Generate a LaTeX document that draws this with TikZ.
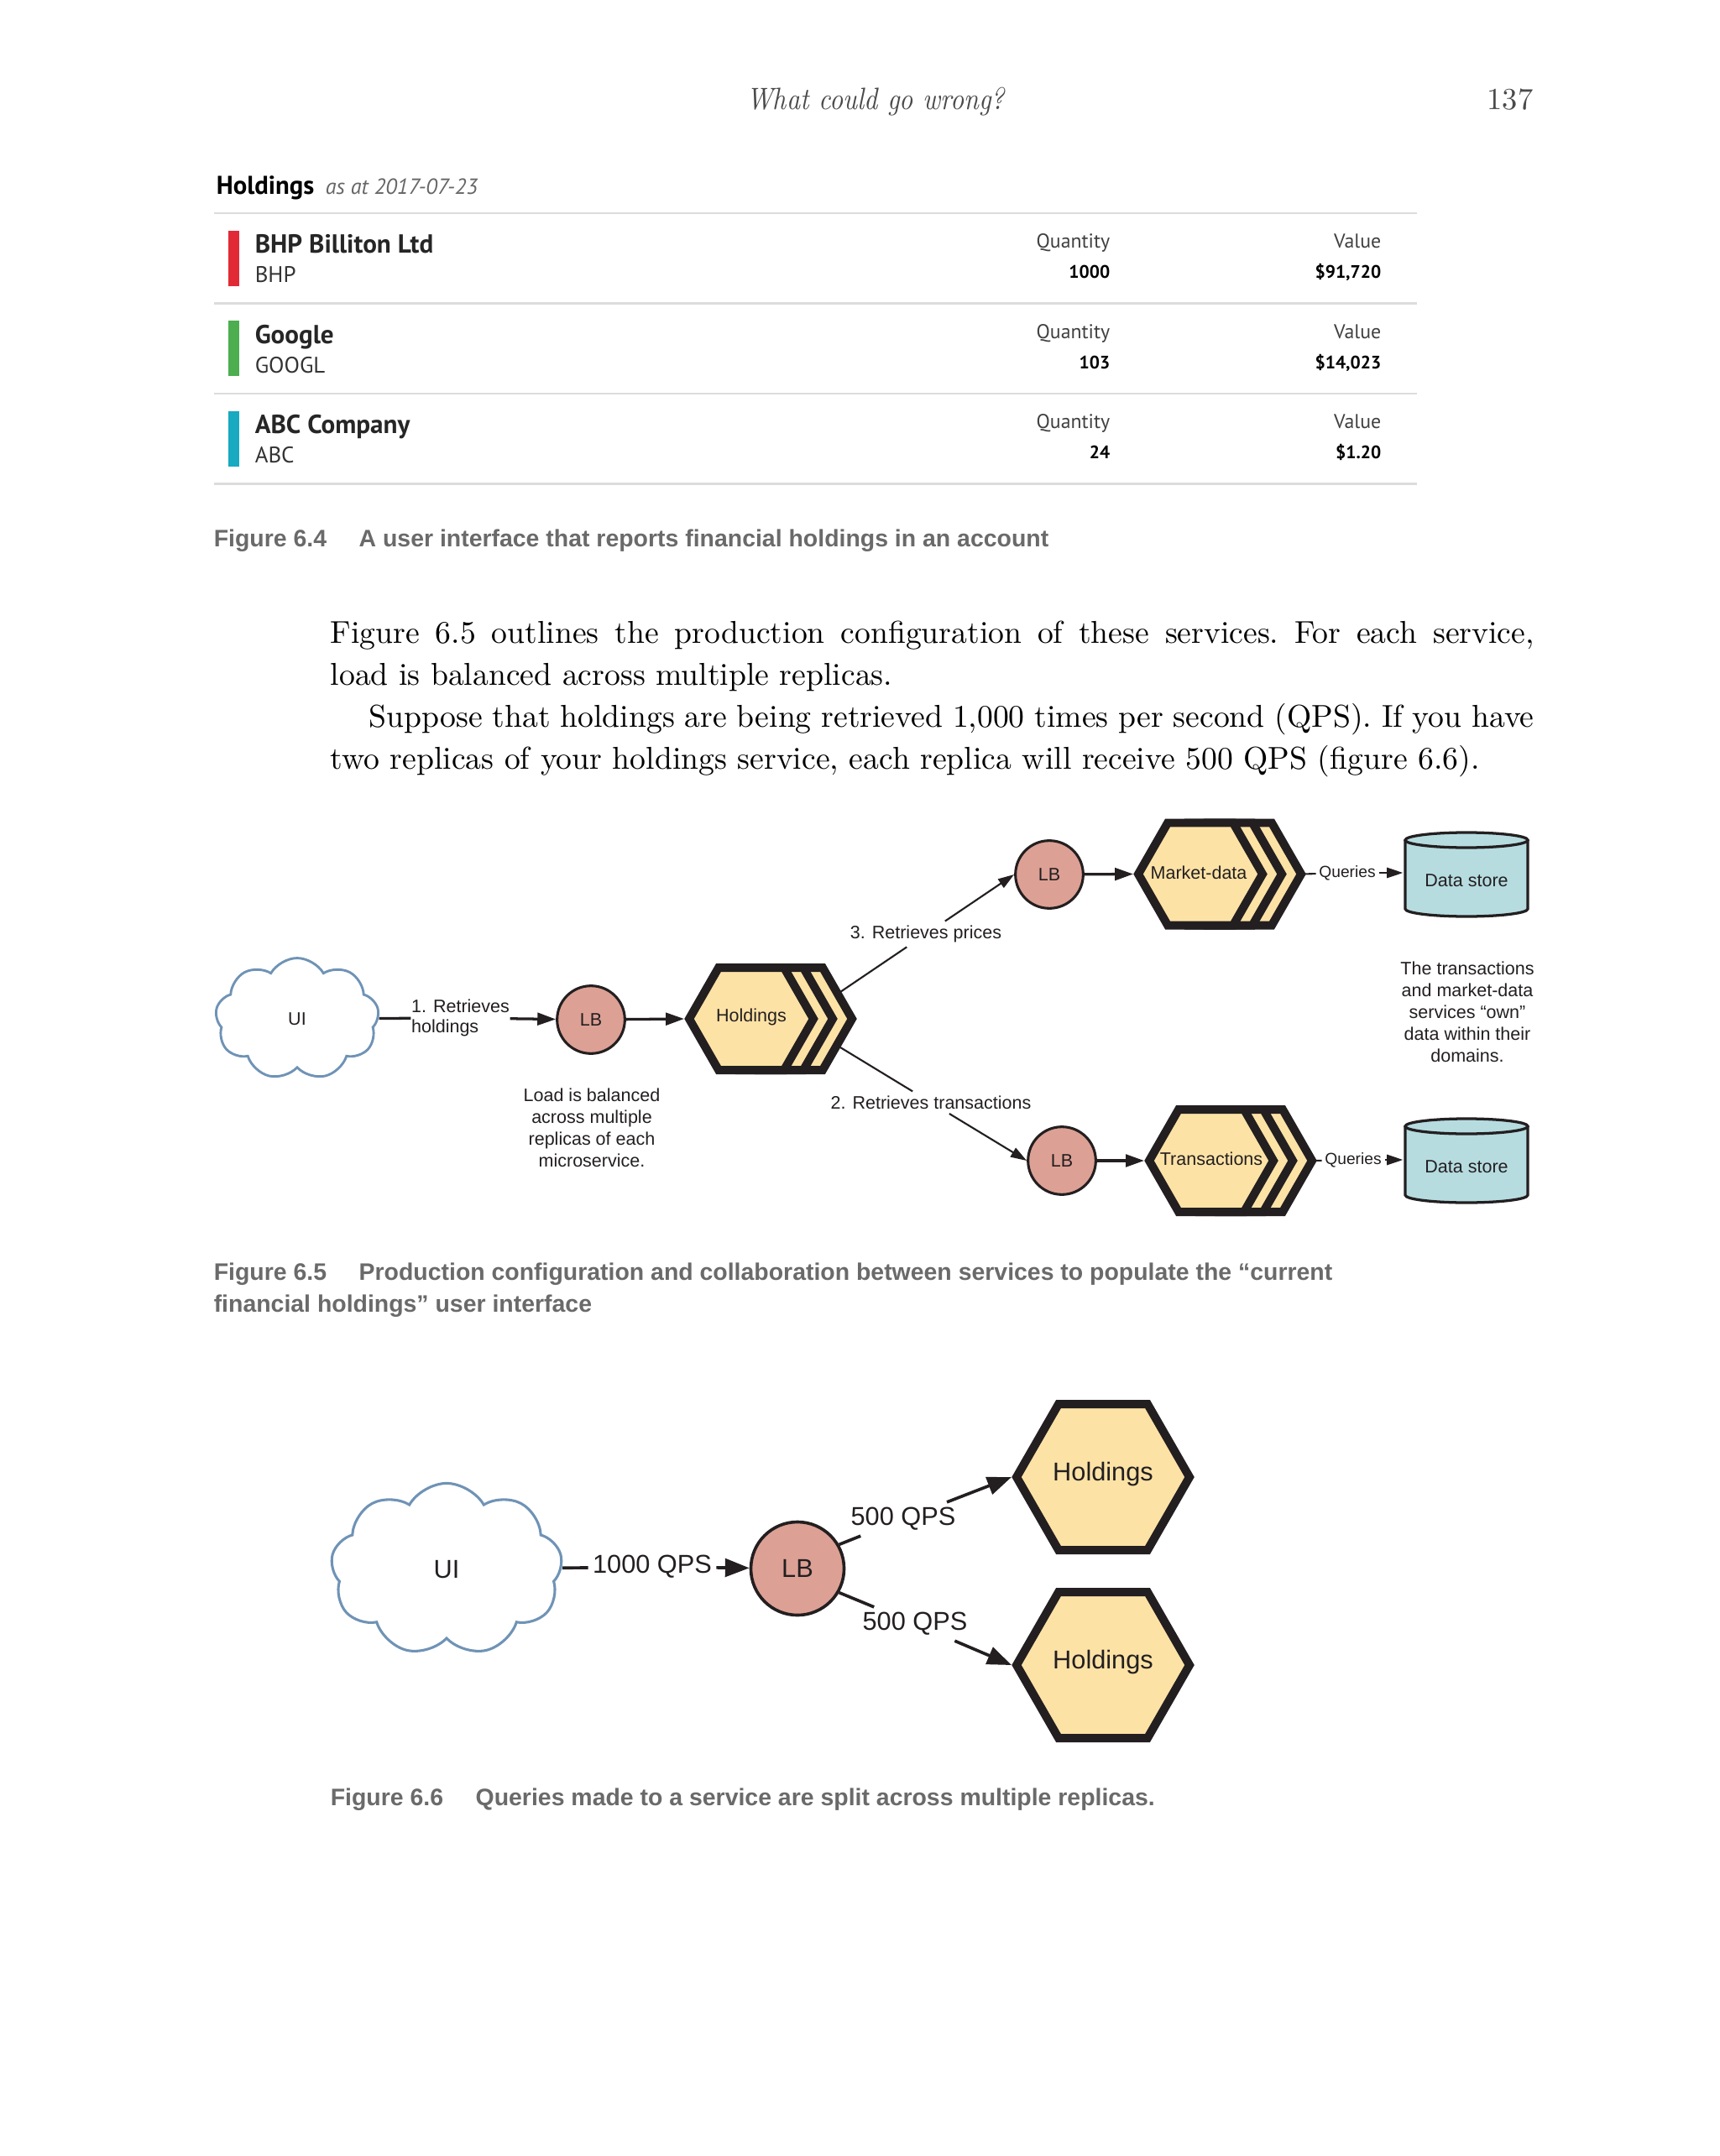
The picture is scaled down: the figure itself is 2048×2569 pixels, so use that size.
\documentclass[tikz,border=0pt]{standalone}
\usepackage{fontspec}
\usetikzlibrary{shapes.symbols,arrows.meta}
\newfontfamily\diagfamily{Liberation Sans}
\newfontfamily\tabfamily{PT Sans}
\definecolor{hexfill}{HTML}{FDE2A6}
\definecolor{lbfill}{HTML}{DDA095}
\definecolor{dsfill}{HTML}{B6DCE0}
\definecolor{cloudc}{HTML}{6F93B6}
\definecolor{capgray}{HTML}{6A6A6A}
\definecolor{ink}{HTML}{231F20}
\definecolor{rulegray}{HTML}{DCDCDC}
\definecolor{barred}{HTML}{E12A36}
\definecolor{bargreen}{HTML}{4CAE4F}
\definecolor{barteal}{HTML}{19A9C1}
\definecolor{hdrgray}{HTML}{4A4A4A}

\newcommand{\chevhex}[2]{%
  \foreach \d in {46,23,0}{%
    \draw[hexst] ({#1-74+\d},{#2}) -- ({#1-39+\d},{#2-61}) -- ({#1+39+\d},{#2-61}) -- ({#1+74+\d},{#2}) -- ({#1+39+\d},{#2+61}) -- ({#1-39+\d},{#2+61}) -- cycle;}}
\newcommand{\plainhex}[2]{%
  \draw[hexst] ({#1-103},{#2}) -- ({#1-53},{#2-87}) -- ({#1+53},{#2-87}) -- ({#1+103},{#2}) -- ({#1+53},{#2+87}) -- ({#1-53},{#2+87}) -- cycle;}
\newcommand{\dstore}[3]{%
  \fill[dsfill] ({#1-73},{#2}) -- ({#1-73},{#3}) arc[start angle=180,end angle=0,x radius=73,y radius=9] -- ({#1+73},{#2}) arc[start angle=0,end angle=-180,x radius=73,y radius=9] -- cycle;
  \draw[dsline] ({#1-73},{#2}) -- ({#1-73},{#3}) arc[start angle=180,end angle=0,x radius=73,y radius=9] -- ({#1+73},{#2});
  \draw[dsline] ({#1},{#2}) ellipse[x radius=73,y radius=9];}

\tikzset{
  hexst/.style={fill=hexfill, draw=ink, line width=2.6pt, line join=miter, miter limit=10},
  dsline/.style={draw=ink, line width=0.85pt},
  txt/.style={inner sep=0pt, text=ink},
  small/.style={txt, font=\diagfamily\fontsize{5.6}{6.6}\selectfont},
  tiny/.style={txt, font=\diagfamily\fontsize{5}{6}\selectfont},
  big/.style={txt, font=\diagfamily\fontsize{8}{9.6}\selectfont},
  lbA/.style={circle, fill=lbfill, draw=ink, line width=0.8pt, minimum size=21pt, inner sep=0pt, text=ink, font=\diagfamily\fontsize{5.6}{6.6}\selectfont},
  lbB/.style={circle, fill=lbfill, draw=ink, line width=0.95pt, minimum size=28.9pt, inner sep=0pt, text=ink, font=\diagfamily\fontsize{8}{9.6}\selectfont},
  cloudst/.style={cloud, cloud puffs=9, cloud puff arc=120, cloud ignores aspect, draw=cloudc, line width=0.75pt, fill=white, inner sep=0pt, text=ink},
  boxA/.style={inner sep=0pt, minimum width=39pt, minimum height=26pt},
  conA/.style={draw=ink, line width=0.85pt},
  arrA/.style={draw=ink, line width=0.85pt, -{Triangle[length=5.7pt,width=3.8pt]}},
  conT/.style={draw=ink, line width=0.55pt},
  arrT/.style={draw=ink, line width=0.55pt, -{Triangle[length=5pt,width=3.2pt]}},
  conB/.style={draw=ink, line width=0.95pt},
  arrB/.style={draw=ink, line width=0.95pt, -{Triangle[length=7.5pt,width=5.6pt]}},
  body/.style={inner sep=0pt, anchor=base west, text=black, font=\fontsize{9.8}{13}\selectfont\frenchspacing},
  capst/.style={inner sep=0pt, anchor=base west, text=capgray, font=\diagfamily\bfseries\fontsize{7.4}{10}\selectfont},
  tname/.style={inner sep=0pt, anchor=base west, text=black!85, font=\tabfamily\bfseries\fontsize{8.1}{10}\selectfont},
  ttick/.style={inner sep=0pt, anchor=base west, text=black!80, font=\tabfamily\fontsize{7}{8.4}\selectfont},
  thead/.style={inner sep=0pt, anchor=base east, text=black!75, font=\tabfamily\fontsize{6.2}{7.4}\selectfont},
  tval/.style={inner sep=0pt, anchor=base east, text=black, font=\tabfamily\bfseries\fontsize{5.6}{7}\selectfont},
  rulest/.style={draw=rulegray, line width=0.6pt}
}

\begin{document}
\begin{tikzpicture}[x=0.26025pt, y=-0.26025pt]
\useasboundingbox (0,0) rectangle (2048,2569);
\fill[white] (0,0) rectangle (2048,2569);

% ---------- running head ----------
\node[inner sep=0pt, anchor=base, text=hdrgray, font=\itshape\fontsize{9.6}{12}\selectfont] (head) at (1043,131) {\scalebox{0.86}[1]{What could go wrong?}};
\node[inner sep=0pt, anchor=base east, text=hdrgray, font=\fontsize{9.5}{12}\selectfont] (pageno) at (1827,131) {137};

% ---------- figure 6.4 (table) ----------
\node[inner sep=0pt, anchor=base west, text=black, font=\tabfamily\bfseries\fontsize{8}{9.6}\selectfont] (ttl) at (257,232) {Holdings};
\node[inner sep=0pt, anchor=base west, text=black!60, font=\tabfamily\itshape\fontsize{6.8}{8.2}\selectfont] (tdate) at (387,232) {as at 2017-07-23};
\draw[rulest] (255,254) -- (1688,254);
\draw[rulest] (255,361.5) -- (1688,361.5);
\draw[rulest] (255,469) -- (1688,469);
\draw[rulest] (255,576.5) -- (1688,576.5);

\fill[barred] (272,275) rectangle (285,341);
\node[tname] (n1) at (303,302) {BHP Billiton Ltd};
\node[ttick] (k1) at (303,337) {BHP};
\node[thead] (q1h) at (1323,296) {Quantity};
\node[tval] (q1v) at (1323,332) {1000};
\node[thead] (v1h) at (1646,296) {Value};
\node[tval] (v1v) at (1646,332) {\$91,720};

\fill[bargreen] (272,382.5) rectangle (285,448.5);
\node[tname] (n2) at (303,409.5) {Google};
\node[ttick] (k2) at (303,444.5) {GOOGL};
\node[thead] (q2h) at (1323,403.5) {Quantity};
\node[tval] (q2v) at (1323,439.5) {103};
\node[thead] (v2h) at (1646,403.5) {Value};
\node[tval] (v2v) at (1646,439.5) {\$14,023};

\fill[barteal] (272,490) rectangle (285,556);
\node[tname] (n3) at (303,517) {ABC Company};
\node[ttick] (k3) at (303,552) {ABC};
\node[thead] (q3h) at (1323,511) {Quantity};
\node[tval] (q3v) at (1323,547) {24};
\node[thead] (v3h) at (1646,511) {Value};
\node[tval] (v3v) at (1646,547) {\$1.20};

\node[capst] (cap64) at (254,651.7) {\makebox[45pt][l]{Figure 6.4}A user interface that reports financial holdings in an account};

% ---------- body text ----------
\node[body] (b1) at (393,766.7) {\makebox[373.2pt][s]{Figure 6.5 outlines the production configuration of these services. For each service,}};
\node[body] (b2) at (393,816.7) {load is balanced across multiple replicas.};
\node[body] (b3) at (439,866.7) {\makebox[361.2pt][s]{Suppose that holdings are being retrieved 1,000 times per second (QPS).\ If you have}};
\node[body] (b4) at (393,916.7) {two replicas of your holdings service, each replica will receive 500 QPS (figure 6.6).};

% ---------- figure 6.5 ----------
\node[cloudst, minimum width=50.7pt, minimum height=37.7pt, font=\diagfamily\fontsize{5.6}{6.6}\selectfont] (ui1) at (354,1214) {UI};
\node[lbA] (lb1) at (704,1215) {LB};
\node[lbA] (lb2) at (1250,1042) {LB};
\node[lbA] (lb3) at (1265,1383) {LB};

\chevhex{895}{1214}
\chevhex{1430}{1041.5}
\chevhex{1443}{1383}
\node[small] (hold) at (895,1212) {Holdings};
\node[small] (mkt) at (1428,1040) {Market-data};
\node[small] (trn) at (1443,1381) {Transactions};
\coordinate (holdW) at (815,1214);
\coordinate (holdNE) at (1001,1182);
\coordinate (holdSE) at (1001,1248);
\coordinate (mktW) at (1350,1041.5);
\coordinate (mktE) at (1552,1041.5);
\coordinate (trnW) at (1363,1383);
\coordinate (trnE) at (1565,1383);

\dstore{1747}{1001}{1083}
\dstore{1747}{1342}{1424}
\node[boxA] (ds1) at (1747,1042) {};
\node[boxA] (ds2) at (1747,1383) {};
\node[small] (ds1t) at (1747,1049) {Data store};
\node[small] (ds2t) at (1747,1390) {Data store};

\node[small, align=left, font=\diagfamily\fontsize{5.6}{6.3}\selectfont] (l1) at (548.5,1213) {1. Retrieves\\holdings};
\node[small, inner sep=1.2pt, fill=white] (l3) at (1103,1113) {3. Retrieves prices};
\node[small, inner sep=1.2pt, fill=white] (l2) at (1109,1313.7) {2. Retrieves transactions};
\node[tiny, inner sep=0.8pt] (qa) at (1605,1040) {Queries};
\node[tiny, inner sep=0.8pt] (qb) at (1612,1382) {Queries};

\draw[conA] (ui1) -- (l1);
\draw[arrA] (l1) -- (lb1);
\draw[arrA] (lb1) -- (holdW);
\draw[conT] (holdNE) -- (l3);
\draw[arrT] (l3) -- (lb2.west);
\draw[conT] (holdSE) -- (l2);
\draw[arrT] (l2) -- (lb3.west);
\draw[arrA] (lb2) -- (mktW);
\draw[arrA] (lb3) -- (trnW);
\draw[conT] (mktE) -- (qa);
\draw[arrT] (qa) -- (qa -| ds1.west);
\draw[conT] (trnE) -- (qb);
\draw[arrT] (qb) -- (qb -| ds2.west);

\node[small, align=center, font=\diagfamily\fontsize{5.6}{6.8}\selectfont] (note1) at (705,1344) {Load is balanced\\across multiple\\replicas of each\\microservice.};
\node[small, align=center, font=\diagfamily\fontsize{5.6}{6.8}\selectfont] (note2) at (1748,1206) {The transactions\\and market-data\\services “own”\\data within their\\domains.};

\node[capst] (cap65a) at (254,1525) {\makebox[45pt][l]{Figure 6.5}Production configuration and collaboration between services to populate the “current};
\node[capst] (cap65b) at (254,1563) {financial holdings” user interface};

% ---------- figure 6.6 ----------
\node[cloudst, minimum width=71.8pt, minimum height=53.4pt, line width=0.8pt, font=\diagfamily\fontsize{8}{9.6}\selectfont] (ui2) at (532,1870) {UI};
\node[lbB] (lb6) at (950,1869) {LB};
\plainhex{1314}{1760}
\plainhex{1314}{1984}
\node[big] (h1) at (1314,1757) {Holdings};
\node[big] (h2) at (1314,1981) {Holdings};
\coordinate (h1W) at (1205,1760);
\coordinate (h2W) at (1205,1984);

\node[big, inner sep=1.2pt] (l4) at (777,1867) {1000 QPS};
\node[big, inner sep=1.5pt] (l5) at (1076,1810) {500 QPS};
\node[big, inner sep=1.5pt] (l6) at (1090,1935) {500 QPS};
\draw[conB] (ui2) -- (l4);
\draw[arrB] (l4) -- (lb6);
\draw[conB] (lb6.30) -- (l5);
\draw[arrB] (l5) -- (h1W);
\draw[conB] (lb6.-30) -- (l6);
\draw[arrB] (l6) -- (h2W);

\node[capst] (cap66) at (393,2151) {\makebox[45pt][l]{Figure 6.6}Queries made to a service are split across multiple replicas.};
\end{tikzpicture}
\end{document}
